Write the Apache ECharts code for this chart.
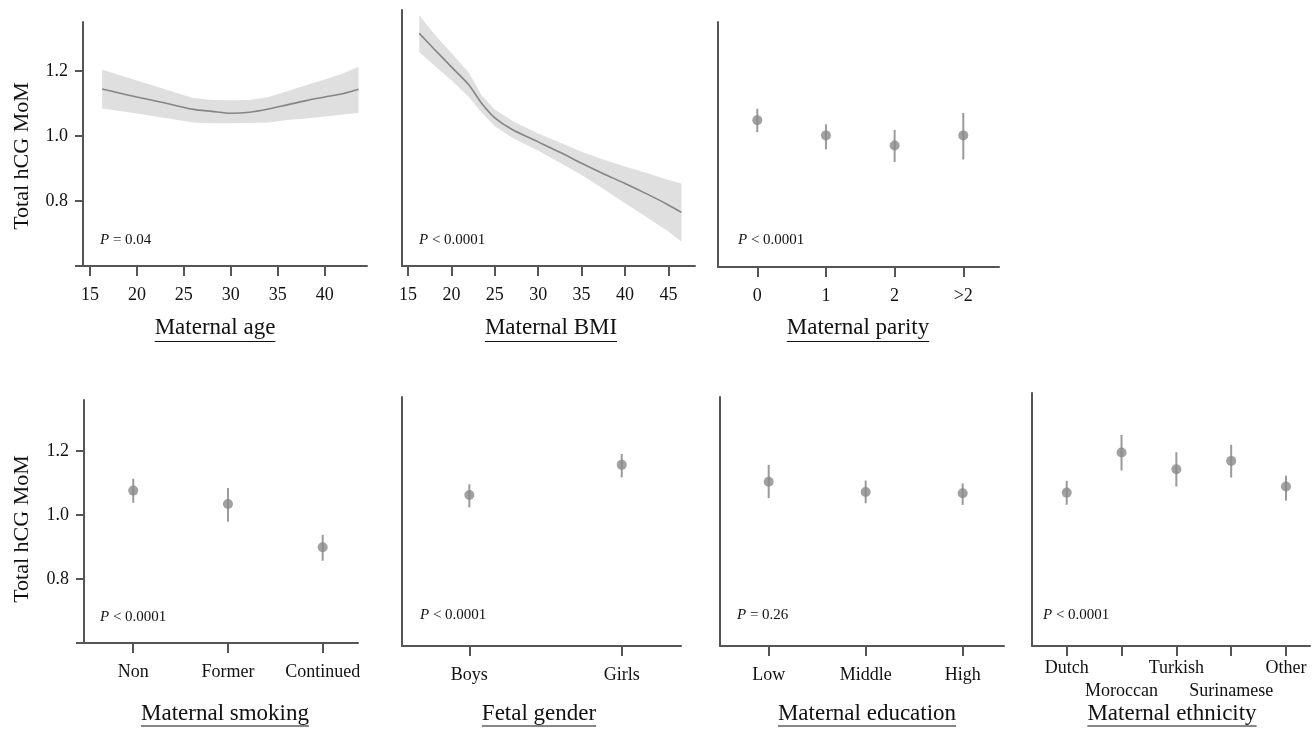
<!DOCTYPE html>
<html><head><meta charset="utf-8">
<script src="https://cdn.jsdelivr.net/npm/echarts@6/dist/echarts.min.js"></script>
<style>html,body{margin:0;padding:0;background:#fff}#c{width:1314px;height:730px}</style>
</head><body><div id="c"></div>
<script>
// ---------------- DATA ----------------
const ageX     = [16.3, 18, 20, 22, 24, 26, 28, 30, 32, 34, 36, 38, 40, 42, 43.6];
const ageFit   = [1.145, 1.133, 1.120, 1.108, 1.095, 1.082, 1.076, 1.070, 1.073, 1.083, 1.096, 1.109, 1.120, 1.131, 1.144];
const ageUpper = [1.205, 1.189, 1.171, 1.153, 1.135, 1.117, 1.111, 1.110, 1.111, 1.120, 1.138, 1.156, 1.174, 1.193, 1.213];
const ageLower = [1.085, 1.078, 1.069, 1.060, 1.051, 1.042, 1.039, 1.039, 1.040, 1.042, 1.049, 1.054, 1.060, 1.066, 1.072];

const bmiX     = [16.3, 18, 20, 22, 23.5, 25, 27, 30, 32.5, 35, 37.5, 40, 42.5, 45, 46.5];
const bmiFit   = [1.316, 1.268, 1.213, 1.158, 1.100, 1.056, 1.020, 0.982, 0.950, 0.916, 0.884, 0.854, 0.822, 0.788, 0.765];
const bmiUpper = [1.372, 1.315, 1.256, 1.196, 1.125, 1.082, 1.047, 1.008, 0.980, 0.952, 0.928, 0.906, 0.886, 0.865, 0.854];
const bmiLower = [1.259, 1.218, 1.172, 1.120, 1.072, 1.030, 0.995, 0.955, 0.918, 0.880, 0.838, 0.793, 0.750, 0.706, 0.675];

const parityCats = ['0', '1', '2', '>2'];
const parityMean = [1.052, 1.005, 0.974, 1.005];
const parityLo   = [1.015, 0.962, 0.923, 0.931];
const parityHi   = [1.087, 1.039, 1.022, 1.074];

const smokingCats = ['Non', 'Former', 'Continued'];
const smokingMean = [1.076, 1.034, 0.899];
const smokingLo   = [1.038, 0.979, 0.857];
const smokingHi   = [1.113, 1.084, 0.938];

const genderCats = ['Boys', 'Girls'];
const genderMean = [1.072, 1.166];
const genderLo   = [1.033, 1.127];
const genderHi   = [1.105, 1.200];

const educationCats = ['Low', 'Middle', 'High'];
const educationMean = [1.113, 1.081, 1.077];
const educationLo   = [1.062, 1.046, 1.041];
const educationHi   = [1.166, 1.117, 1.108];

const ethnicityCats = ['Dutch', 'Moroccan', 'Turkish', 'Surinamese', 'Other'];
const ethnicityMean = [1.079, 1.204, 1.152, 1.178, 1.098];
const ethnicityLo   = [1.041, 1.148, 1.098, 1.126, 1.054];
const ethnicityHi   = [1.116, 1.259, 1.205, 1.228, 1.132];

const yTickValues  = [0.6, 0.8, 1.0, 1.2];
const yLabelValues = [0.8, 1.0, 1.2];
const ageTicks = [15, 20, 25, 30, 35, 40];
const bmiTicks = [15, 20, 25, 30, 35, 40, 45];

const yTitle = 'Total hCG MoM';
const panelTitles = ['Maternal age', 'Maternal BMI', 'Maternal parity', 'Maternal smoking', 'Fetal gender', 'Maternal education', 'Maternal ethnicity'];
const pOps  = ['=', '<', '<', '<', '<', '=', '<'];
const pVals = ['0.04', '0.0001', '0.0001', '0.0001', '0.0001', '0.26', '0.0001'];

// ---------------- LAYOUT / STYLE ----------------
const FONT = '"Liberation Serif", "Times New Roman", serif';
const AXIS = '#555555';
const TXT = '#111111';
const layout = [
  {grid:{left:83, top:22, width:284, height:244}, xMin:14.26, xMax:44.5, yMax:1.351, yTicks:true, title:[215,328], p:[100,240]},
  {grid:{left:402, top:10, width:293, height:256}, xMin:14.31, xMax:48.06, yMax:1.388, title:[551,328], p:[419,240]},
  {grid:{left:718, top:22, width:281, height:245}, xMin:-0.572, xMax:3.52, yMax:1.354, title:[858,328], p:[738,240]},
  {grid:{left:84, top:400, width:274, height:243}, xMin:-0.52, xMax:2.373, yMax:1.359, yTicks:true, title:[225,714], p:[100,617]},
  {grid:{left:402, top:397, width:279, height:249}, xMin:-0.442, xMax:1.389, yMax:1.378, title:[539,714], p:[420,615]},
  {grid:{left:720, top:397, width:284, height:249}, xMin:-0.502, xMax:2.426, yMax:1.378, title:[867,714], p:[737,615]},
  {grid:{left:1032, top:393, width:278, height:253}, xMin:-0.633, xMax:4.438, yMax:1.39, title:[1172,714], p:[1043,615]}
];
const catPanels = {2: parityCats, 3: smokingCats, 4: genderCats, 5: educationCats, 6: ethnicityCats};
const pointData = {
  2: [parityMean, parityLo, parityHi],
  3: [smokingMean, smokingLo, smokingHi],
  4: [genderMean, genderLo, genderHi],
  5: [educationMean, educationLo, educationHi],
  6: [ethnicityMean, ethnicityLo, ethnicityHi]
};

const grids = layout.map(l => Object.assign({}, l.grid));
const labelBase = {color: TXT, fontFamily: FONT, fontSize: 18, lineHeight: 18,
  showMinLabel: true, showMaxLabel: true, hideOverlap: false};
const xAxes = layout.map((l, i) => {
  const cats = catPanels[i];
  const ticks = cats ? cats.map((c, k) => k) : (i === 0 ? ageTicks : bmiTicks);
  const isEth = i === 6;
  const labelVals = isEth ? ticks.filter(k => k % 2 === 0) : ticks;
  return {
    type: 'value', gridIndex: i, position: 'bottom', min: l.xMin, max: l.xMax,
    splitLine: {show: false},
    axisLine: {show: true, onZero: false, lineStyle: {color: AXIS, width: 2}},
    axisTick: {show: true, customValues: ticks, length: 10, lineStyle: {color: AXIS, width: 2}},
    axisLabel: Object.assign({}, labelBase, {
      customValues: labelVals, margin: isEth ? 13 : 20,
      formatter: cats ? (v => cats[Math.round(v)]) : (v => String(v))
    })
  };
});
// second label row for the staggered ethnicity labels (same grid, same scale)
const ethIdx = 6;
xAxes.push({
  type: 'value', gridIndex: ethIdx, position: 'bottom', offset: 0,
  min: layout[ethIdx].xMin, max: layout[ethIdx].xMax,
  splitLine: {show: false}, axisLine: {show: false, onZero: false}, axisTick: {show: false},
  axisLabel: Object.assign({}, labelBase, {
    customValues: ethnicityCats.map((c, k) => k).filter(k => k % 2 === 1), margin: 36,
    formatter: v => ethnicityCats[Math.round(v)]
  })
});
const yAxes = layout.map((l, i) => ({
  type: 'value', gridIndex: i, min: 0.6, max: l.yMax,
  splitLine: {show: false},
  axisLine: {show: true, onZero: false, lineStyle: {color: AXIS, width: 2}},
  axisTick: {show: !!l.yTicks, customValues: yTickValues, length: 8, lineStyle: {color: AXIS, width: 2}},
  axisLabel: {show: !!l.yTicks, customValues: yLabelValues, color: TXT, fontFamily: FONT, fontSize: 18, margin: 15,
    formatter: v => v.toFixed(1)}
}));

function bandSeries(idx, xs, up, lo) {
  return {
    type: 'custom', xAxisIndex: idx, yAxisIndex: idx, silent: true, z: 1,
    data: [[xs[0], up[0]]],
    renderItem: (params, api) => {
      const pts = [];
      for (let i = 0; i < xs.length; i++) pts.push(api.coord([xs[i], up[i]]));
      for (let i = xs.length - 1; i >= 0; i--) pts.push(api.coord([xs[i], lo[i]]));
      return {type: 'polygon', shape: {points: pts}, style: {fill: '#dfdfdf', stroke: null}};
    }
  };
}
function fitSeries(idx, xs, ys) {
  return {
    type: 'line', xAxisIndex: idx, yAxisIndex: idx, silent: true, z: 2,
    data: xs.map((x, k) => [x, ys[k]]), showSymbol: false, smooth: 0.25,
    lineStyle: {color: '#858585', width: 1.6}
  };
}
function errSeries(idx, lo, hi) {
  return {
    type: 'custom', xAxisIndex: idx, yAxisIndex: idx, silent: true, z: 3,
    data: lo.map((v, k) => [k, v, hi[k]]),
    encode: {x: 0, y: [1, 2]},
    renderItem: (params, api) => {
      const a = api.coord([api.value(0), api.value(1)]);
      const b = api.coord([api.value(0), api.value(2)]);
      return {type: 'line', shape: {x1: a[0], y1: a[1], x2: b[0], y2: b[1]}, style: {stroke: '#9a9a9a', lineWidth: 2}};
    }
  };
}
function dotSeries(idx, mean) {
  return {
    type: 'scatter', xAxisIndex: idx, yAxisIndex: idx, silent: true, z: 4,
    data: mean.map((v, k) => [k, v]), symbol: 'circle', symbolSize: 10,
    itemStyle: {color: '#8a8a8a'}
  };
}

const series = [
  bandSeries(0, ageX, ageUpper, ageLower), fitSeries(0, ageX, ageFit),
  bandSeries(1, bmiX, bmiUpper, bmiLower), fitSeries(1, bmiX, bmiFit)
];
Object.keys(pointData).forEach(k => {
  const i = +k, d = pointData[k];
  series.push(errSeries(i, d[1], d[2]));
  series.push(dotSeries(i, d[0]));
});

// ---------------- TEXT DECORATIONS ----------------
const ctx = document.createElement('canvas').getContext('2d');
ctx.font = '23px "Liberation Serif"';
const graphics = [];
[156, 529].forEach(cy => graphics.push({
  type: 'text', x: 22, y: cy, rotation: Math.PI / 2, silent: true,
  style: {text: yTitle, fontFamily: FONT, fontSize: 22, fill: TXT, align: 'center', verticalAlign: 'middle'}
}));
layout.forEach((l, i) => {
  const [cx, cy] = l.title;
  const w = ctx.measureText(panelTitles[i]).width;
  graphics.push({type: 'text', x: cx, y: cy, silent: true,
    style: {text: panelTitles[i], fontFamily: FONT, fontSize: 23, fill: TXT, align: 'center', verticalAlign: 'middle'}});
  const uy = i < 3 ? cy + 13.5 : Math.min(cy + 12, 727);
  graphics.push({type: 'line', silent: true, shape: {x1: cx - w / 2, y1: uy, x2: cx + w / 2, y2: uy},
    style: {stroke: TXT, lineWidth: 1.2}});
  graphics.push({type: 'text', x: l.p[0], y: l.p[1], silent: true,
    style: {text: '{i|P} ' + pOps[i] + ' ' + pVals[i], fontFamily: FONT, fontSize: 15, fill: TXT,
      align: 'left', verticalAlign: 'middle',
      rich: {i: {fontStyle: 'italic', fontFamily: FONT, fontSize: 15, fill: TXT}}}});
});

const chart = echarts.init(document.getElementById('c'), null, {renderer: 'canvas'});
chart.setOption({
  animation: false,
  backgroundColor: '#ffffff',
  grid: grids, xAxis: xAxes, yAxis: yAxes, series: series,
  graphic: graphics
});
</script></body></html>
